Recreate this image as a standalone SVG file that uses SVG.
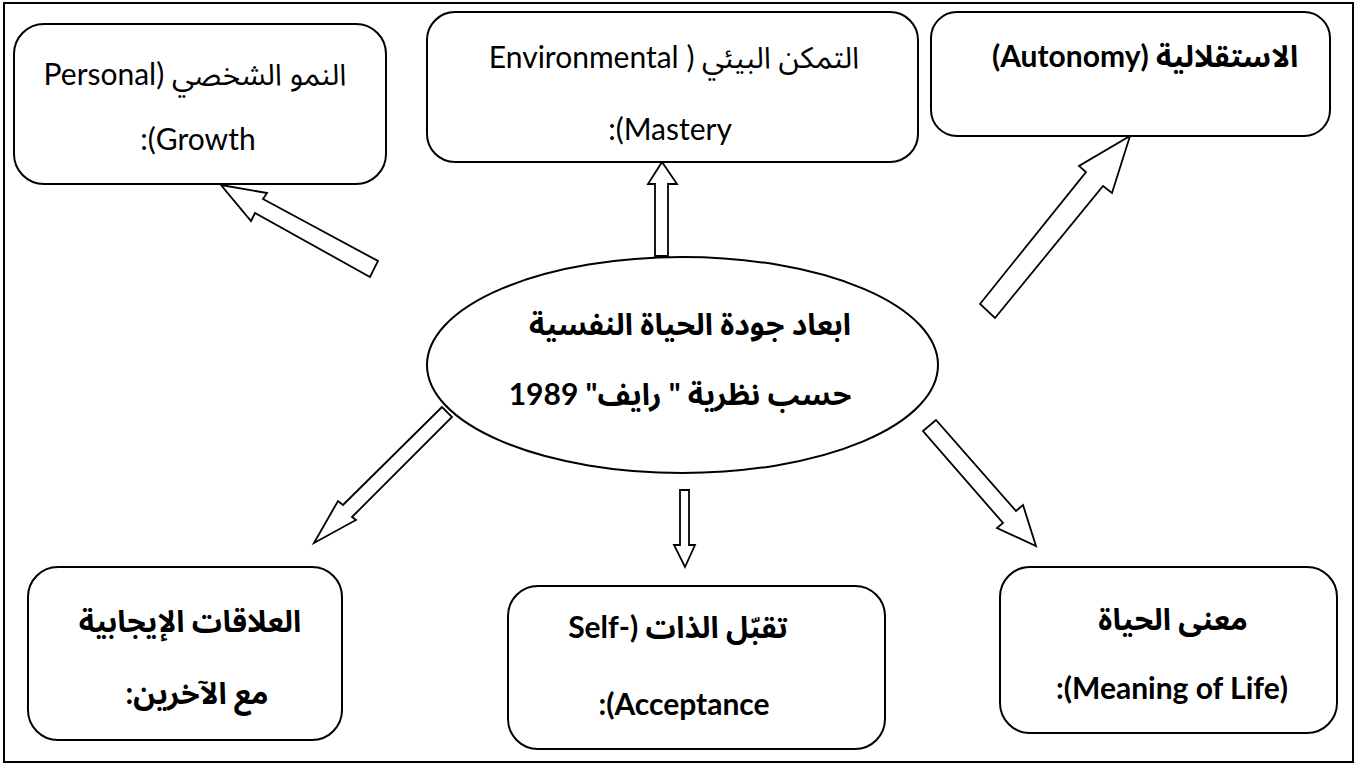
<svg xmlns="http://www.w3.org/2000/svg" width="1357" height="779" viewBox="0 0 1357 779">
<style>
.box{fill:#fff;stroke:#000;stroke-width:2}
.arr{fill:#fff;stroke:#000;stroke-width:1.8;stroke-linejoin:miter}
.t{font-family:Lato,"Noto Sans Arabic","DejaVu Sans",sans-serif;font-size:30px;fill:#000;text-anchor:middle;direction:rtl}
.b{font-weight:bold}
</style>
<rect x="4" y="3" width="1349" height="759" fill="#fff" stroke="#000" stroke-width="2"/>
<g id="connectors">
<polygon class="arr" points="221,185 267,193 263,199 378,261 370,277 255,213 251,221"/>
<polygon class="arr" points="655,256 655,184 648,184 662,162 677,184 668,184 668,256"/>
<polygon class="arr" points="980,304 1086,172 1079,166 1130,136 1112,193 1103,186 995,318"/>
<polygon class="arr" points="442,407 343,505 338,501 314,543 356,520 352,517 452,417"/>
<polygon class="arr" points="680,490 689,490 689,545 695,545 685,567 674,545 680,545"/>
<polygon class="arr" points="923,431 936,420 1016,511 1023,505 1036,546 997,528 1003,523"/>
</g>
<g id="center">
<ellipse class="box" cx="682.5" cy="365" rx="255.5" ry="108"/>
<text class="t b" direction="rtl" x="690" y="335">ابعاد جودة الحياة النفسية</text>
<text class="t b" direction="rtl" x="680" y="405">حسب نظرية " رايف" 1989</text>
</g>
<g id="personal-growth">
<rect class="box" x="14" y="24" width="372" height="160" rx="30"/>
<text class="t" direction="rtl" x="195" y="85">النمو الشخصي (Personal</text>
<text class="t" direction="rtl" x="198" y="150">Growth):</text>
</g>
<g id="environmental-mastery">
<rect class="box" x="427" y="12" width="491" height="150" rx="28"/>
<text class="t" direction="rtl" x="674" y="68">التمكن البيئي ( Environmental</text>
<text class="t" direction="rtl" x="670" y="140">Mastery):</text>
</g>
<g id="autonomy">
<rect class="box" x="931" y="12" width="399" height="124" rx="26"/>
<text class="t b" direction="rtl" x="1145" y="67">الاستقلالية (Autonomy)</text>
</g>
<g id="positive-relations">
<rect class="box" x="28" y="567" width="314" height="173" rx="30"/>
<text class="t b" direction="rtl" x="190" y="632">العلاقات الإيجابية</text>
<text class="t b" direction="rtl" x="197" y="704">مع الآخرين:</text>
</g>
<g id="self-acceptance">
<rect class="box" x="508" y="586" width="377" height="163" rx="30"/>
<text class="t b" direction="rtl" x="678" y="638">تقبّل الذات (-Self</text>
<text class="t b" direction="rtl" x="684" y="715">Acceptance):</text>
</g>
<g id="meaning-of-life">
<rect class="box" x="1000" y="567" width="337" height="166" rx="30"/>
<text class="t b" direction="rtl" x="1173" y="630">معنى الحياة</text>
<text class="t b" direction="rtl" x="1172" y="699">(Meaning of Life):</text>
</g>
</svg>
